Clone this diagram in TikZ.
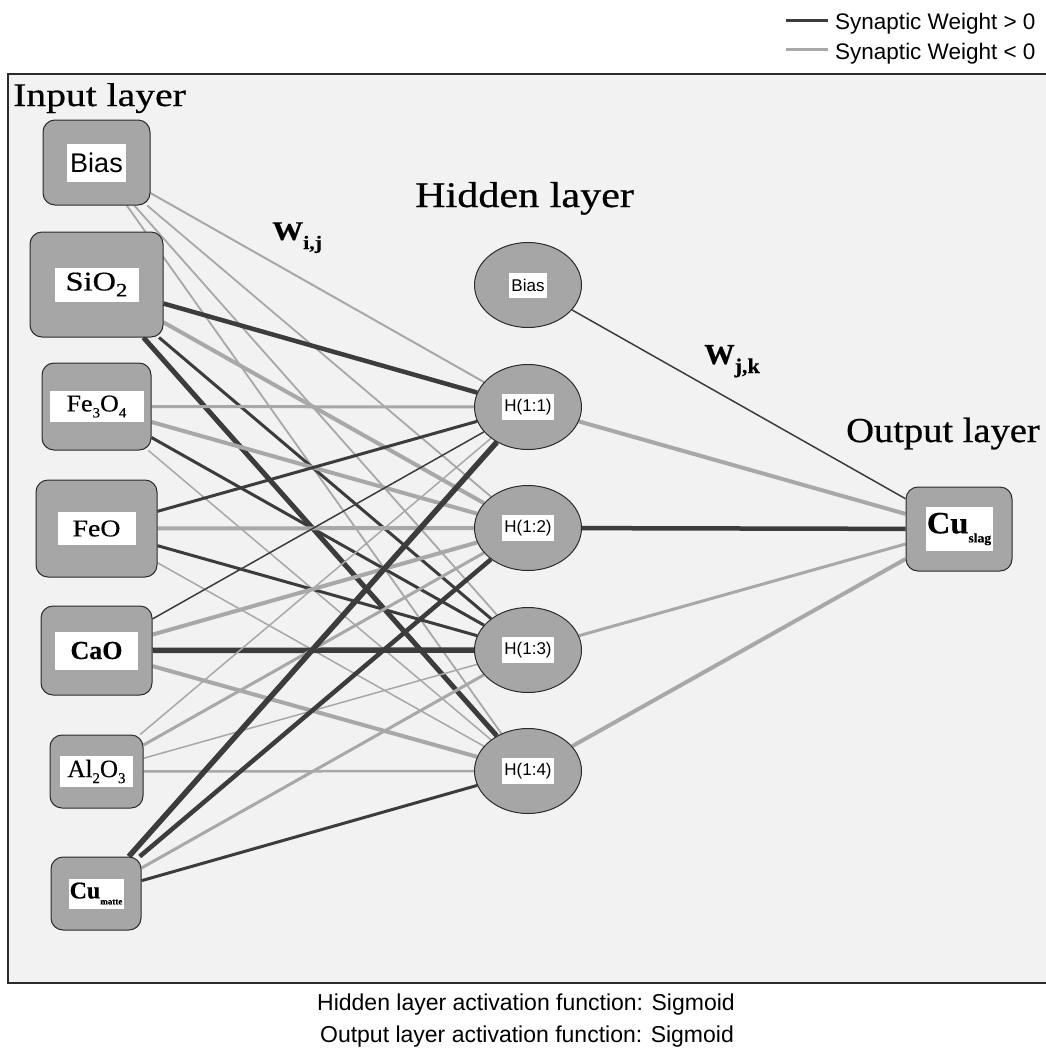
\documentclass[tikz,border=0pt]{standalone}
\usepackage{fontspec}
\usepackage{graphicx}
\setmainfont{Liberation Serif}[FakeBold=0.5]
\newfontfamily\sansf{Liberation Sans}
\usetikzlibrary{shapes.geometric,backgrounds}
\definecolor{bgc}{HTML}{F2F2F2}
\definecolor{posc}{HTML}{3C3C3C}
\definecolor{negc}{HTML}{A8A8A8}
\definecolor{boxc}{HTML}{A6A6A6}
\definecolor{edgec}{HTML}{2B2B2B}
\newcommand\fsz[1]{\fontsize{#1}{#1}\selectfont}
\newcommand\sx[2]{\scalebox{#1}[1]{#2}}
\newcommand\lowsub[3]{\raisebox{-#2pt}{\fsz{#1}#3}}
\begin{document}
\begin{tikzpicture}[x=1pt,y=-1pt,
  inbox/.style={rectangle, rounded corners=12, fill=boxc, draw=edgec, line width=1, inner sep=0},
  outbox/.style={rectangle, rounded corners=12, fill=boxc, draw=edgec, line width=1, inner sep=0},
  hid/.style={ellipse, fill=boxc, draw=edgec, line width=1, inner sep=0, minimum width=107, minimum height=85},
  wl/.style={fill=white, inner sep=0, outer sep=0},
  P/.style={draw=posc, line width=#1},
  N/.style={draw=negc, line width=#1},
  ttl/.style={inner sep=0, anchor=base west},
]
\useasboundingbox (0,0) rectangle (1046,1050);

% input layer
\node[inbox, minimum width=107, minimum height=85,
  label={[wl, minimum width=59, minimum height=38]center:{\sansf\fsz{27}Bias}}] (i0) at (96.5,162.5) {};
\node[inbox, minimum width=133, minimum height=105,
  label={[wl, minimum width=84, minimum height=34]center:{\sx{1.2}{\fsz{27}SiO\lowsub{19}{6}{2}}}}] (i1) at (96.5,284.5) {};
\node[inbox, minimum width=109, minimum height=87,
  label={[wl, minimum width=94, minimum height=31]center:{\sx{1.08}{\fsz{24}Fe\lowsub{14}{6}{3}O\lowsub{14}{6}{4}}}}] (i2) at (96.5,406.5) {};
\node[inbox, minimum width=121, minimum height=97,
  label={[wl, minimum width=78, minimum height=33]center:{\sx{1.16}{\fsz{24}FeO}}}] (i3) at (96.5,528.5) {};
\node[inbox, minimum width=111, minimum height=89,
  label={[wl, minimum width=83, minimum height=38]center:{\fsz{26}\bfseries CaO}}] (i4) at (96.5,650.5) {};
\node[inbox, minimum width=93, minimum height=73,
  label={[wl, minimum width=73, minimum height=31]center:{\fsz{25}Al\lowsub{15}{6}{2}O\lowsub{15}{6}{3}}}] (i5) at (96.5,771.5) {};
\node[inbox, minimum width=90, minimum height=73,
  label={[wl, minimum width=55, minimum height=30]center:{\fsz{24}\bfseries Cu\lowsub{9}{6}{matte}}}] (i6) at (96,893.5) {};

% hidden layer
\node[hid, label={[wl, minimum width=38, minimum height=25]center:{\sansf\fsz{17}Bias}}] (hb) at (528,285) {};
\node[hid, label={[wl, minimum width=52, minimum height=26]center:{\sansf\fsz{17}H(1:1)}}] (h1) at (528,407) {};
\node[hid, label={[wl, minimum width=52, minimum height=26]center:{\sansf\fsz{17}H(1:2)}}] (h2) at (528,528) {};
\node[hid, label={[wl, minimum width=52, minimum height=26]center:{\sansf\fsz{17}H(1:3)}}] (h3) at (528,650) {};
\node[hid, label={[wl, minimum width=52, minimum height=26]center:{\sansf\fsz{17}H(1:4)}}] (h4) at (528,771) {};

% output layer
\node[outbox, minimum width=106, minimum height=84,
  label={[wl, minimum width=67, minimum height=44]center:{\sx{1.05}{\fsz{31}\bfseries Cu\lowsub{13}{9}{slag}}}}] (o) at (959,529) {};

% titles
\node[ttl] (tin) at (13,106) {\sx{1.2}{\fsz{33}Input layer}};
\node[ttl] (thid) at (415,207) {\sx{1.17}{\fsz{36}Hidden layer}};
\node[ttl] (tout) at (846,442) {\sx{1.1}{\fsz{35}Output layer}};
\node[ttl] (wij) at (272,240) {\sx{1.15}{\fsz{27}\bfseries W\lowsub{19}{9}{i,j}}};
\node[ttl] (wjk) at (704,364) {\sx{1.05}{\fsz{29}\bfseries W\lowsub{21}{9}{j,k}}};

% legend
\coordinate (la1) at (786,20); \coordinate (lb1) at (828,20);
\coordinate (la2) at (786,49); \coordinate (lb2) at (828,49);
\draw[P=3] (la1) -- (lb1);
\draw[N=3] (la2) -- (lb2);
\node[ttl] (lt1) at (835,29) {\sansf\fsz{22.5}Synaptic Weight > 0};
\node[ttl] (lt2) at (835,59) {\sansf\fsz{22.5}Synaptic Weight < 0};

% bottom notes
\node[anchor=base, inner sep=0] (b1) at (526,1010) {\sansf\fsz{23}Hidden layer activation function: Sigmoid};
\node[anchor=base, inner sep=0] (b2) at (527,1042) {\sansf\fsz{23}Output layer activation function: Sigmoid};

\begin{scope}[on background layer]
\fill[bgc] (8,74) rectangle (1046,983);
\draw[edgec, line width=2] (1046,74) -- (8,74) -- (8,983) -- (1046,983);
% input -> hidden
\draw[N=2]   (i0) -- (h1);
\draw[N=1.8] (i0) -- (h2);
\draw[N=1.8] (i0) -- (h3);
\draw[N=1.8] (i0) -- (h4);
\draw[P=4.5] (i1) -- (h1);
\draw[N=4]   (i1) -- (h2);
\draw[P=3]   (i1) -- (h3);
\draw[P=5]   (i1) -- (h4);
\draw[N=3]   (i2) -- (h1);
\draw[N=4]   (i2) -- (h2);
\draw[P=3]   (i2) -- (h3);
\draw[N=1.5] (i2) -- (h4);
\draw[P=3]   (i3) -- (h1);
\draw[N=4]   (i3) -- (h2);
\draw[P=3]   (i3) -- (h3);
\draw[N=1.5] (i3) -- (h4);
\draw[P=1.5] (i4) -- (h1);
\draw[N=4]   (i4) -- (h2);
\draw[P=5.5] (i4) -- (h3);
\draw[N=4]   (i4) -- (h4);
\draw[N=1.5] (i5) -- (h1);
\draw[N=3]   (i5) -- (h2);
\draw[N=1.5] (i5) -- (h3);
\draw[N=2.5] (i5) -- (h4);
\draw[P=5.5] (i6) -- (h1);
\draw[P=4.5] (i6) -- (h2);
\draw[N=3]   (i6) -- (h3);
\draw[P=3]   (i6) -- (h4);
% hidden -> output
\draw[P=1.5] (hb) -- (o);
\draw[N=4]   (h1) -- (o);
\draw[P=4.5] (h2) -- (o);
\draw[N=3]   (h3) -- (o);
\draw[N=4]   (h4) -- (o);
\end{scope}
\end{tikzpicture}
\end{document}
